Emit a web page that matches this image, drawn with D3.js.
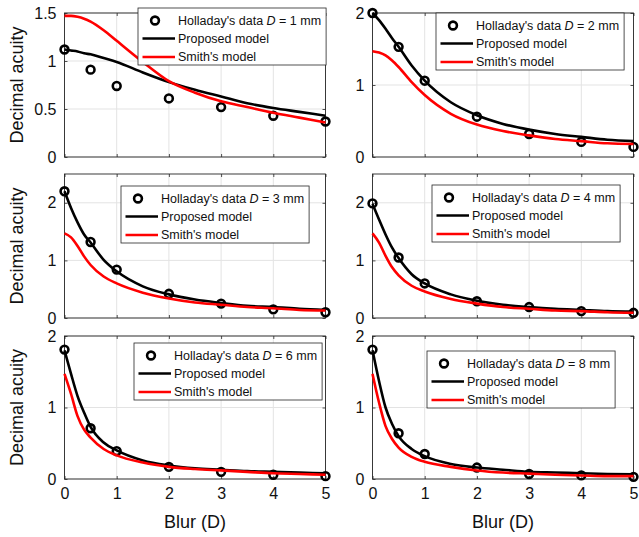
<!DOCTYPE html>
<html>
<head>
<meta charset="utf-8">
<script src="https://cdn.jsdelivr.net/npm/d3@7"></script>
<style>
  html, body { margin: 0; padding: 0; background: #fff; }
  svg { display: block; font-family: "Liberation Sans", Arial, Helvetica, sans-serif; }
</style>
</head>
<body>
<svg id="chart" width="639" height="537"></svg>
<script>
// ---------------- DATA ----------------
const blurData = [0, 0.5, 1, 2, 3, 4, 5];                 // Holladay's measured blur levels (D)
const blurCurve = [0, 0.125, 0.25, 0.375, 0.5, 0.75, 1, 1.5, 2, 2.5, 3, 3.5, 4, 4.5, 5]; // model sample points
const xTicks = [0, 1, 2, 3, 4, 5];
const pupilSizes = [1, 2, 3, 4, 6, 8];                    // D (mm)

const holladayD1 = [1.12, 0.91, 0.74, 0.61, 0.52, 0.43, 0.37];
const proposedD1 = [1.12, 1.11, 1.10, 1.08, 1.07, 1.03, 0.99, 0.88, 0.78, 0.70, 0.63, 0.56, 0.51, 0.47, 0.43];
const smithD1    = [1.47, 1.47, 1.46, 1.44, 1.41, 1.32, 1.21, 0.99, 0.79, 0.67, 0.58, 0.52, 0.46, 0.41, 0.36];

const holladayD2 = [2.00, 1.53, 1.06, 0.56, 0.32, 0.21, 0.14];
const proposedD2 = [2.00, 1.90, 1.78, 1.65, 1.53, 1.27, 1.06, 0.76, 0.58, 0.46, 0.38, 0.32, 0.28, 0.24, 0.22];
const smithD2    = [1.47, 1.45, 1.41, 1.34, 1.25, 1.04, 0.86, 0.60, 0.45, 0.36, 0.30, 0.25, 0.22, 0.19, 0.18];

const holladayD3 = [2.20, 1.32, 0.84, 0.42, 0.25, 0.15, 0.10];
const proposedD3 = [2.20, 1.91, 1.66, 1.45, 1.31, 1.01, 0.81, 0.55, 0.41, 0.32, 0.26, 0.21, 0.19, 0.16, 0.14];
const smithD3    = [1.47, 1.40, 1.25, 1.07, 0.92, 0.72, 0.60, 0.44, 0.34, 0.27, 0.23, 0.19, 0.17, 0.14, 0.13];

const holladayD4 = [1.99, 1.05, 0.60, 0.29, 0.19, 0.12, 0.09];
const proposedD4 = [1.98, 1.71, 1.45, 1.22, 1.04, 0.76, 0.60, 0.41, 0.30, 0.23, 0.19, 0.16, 0.14, 0.12, 0.11];
const smithD4    = [1.47, 1.31, 1.08, 0.88, 0.74, 0.56, 0.46, 0.33, 0.25, 0.19, 0.16, 0.13, 0.12, 0.10, 0.09];

const holladayD6 = [1.81, 0.71, 0.39, 0.17, 0.10, 0.06, 0.04];
const proposedD6 = [1.80, 1.47, 1.16, 0.93, 0.73, 0.51, 0.40, 0.26, 0.19, 0.15, 0.13, 0.11, 0.10, 0.09, 0.08];
const smithD6    = [1.47, 1.19, 0.88, 0.69, 0.58, 0.42, 0.33, 0.23, 0.17, 0.14, 0.12, 0.10, 0.08, 0.07, 0.06];

const holladayD8 = [1.81, 0.64, 0.35, 0.16, 0.07, 0.05, 0.03];
const proposedD8 = [1.80, 1.37, 1.00, 0.77, 0.60, 0.42, 0.32, 0.21, 0.16, 0.13, 0.10, 0.09, 0.08, 0.07, 0.065];
const smithD8    = [1.47, 1.07, 0.74, 0.56, 0.44, 0.31, 0.24, 0.17, 0.12, 0.09, 0.075, 0.06, 0.05, 0.04, 0.04];

const yMaxes = [1.5, 2, 2.5, 2.5, 2, 2];
const yTickSets = [[0, 0.5, 1, 1.5], [0, 1, 2], [0, 1, 2], [0, 1, 2], [0, 1, 2], [0, 1, 2]];
const yTickLabels = [["0", "0.5", "1", "1.5"], ["0", "1", "2"], ["0", "1", "2"], ["0", "1", "2"], ["0", "1", "2"], ["0", "1", "2"]];
const legendLabels = ["Holladay's data", "Proposed model", "Smith's model"];
const xAxisTitle = "Blur (D)";
const yAxisTitle = "Decimal acuity";

const holladay = [holladayD1, holladayD2, holladayD3, holladayD4, holladayD6, holladayD8];
const proposed = [proposedD1, proposedD2, proposedD3, proposedD4, proposedD6, proposedD8];
const smith    = [smithD1, smithD2, smithD3, smithD4, smithD6, smithD8];

// ---------------- LAYOUT ----------------
const colX = [[64.5, 325.5], [372.5, 633.5]];
const rowY = [[13, 157], [174, 318], [336, 479]];
const legendPos = [[138, 8], [436, 13], [121, 186], [432, 185], [134, 343], [427, 351]];

const svg = d3.select("#chart");
const frameColor = "#262626";
const gridColor = "#e3e3e3";

pupilSizes.forEach((D, i) => {
  const col = i % 2, row = Math.floor(i / 2);
  const x = d3.scaleLinear().domain([0, 5]).range(colX[col]);
  const y = d3.scaleLinear().domain([0, yMaxes[i]]).range([rowY[row][1], rowY[row][0]]);
  const g = svg.append("g");
  const [x0, x1] = colX[col];
  const [yb, yt] = [rowY[row][1], rowY[row][0]];

  // grid
  g.selectAll(".gx").data(xTicks).join("line")
    .attr("x1", d => x(d)).attr("x2", d => x(d)).attr("y1", yt).attr("y2", yb)
    .attr("stroke", gridColor).attr("stroke-width", 1);
  g.selectAll(".gy").data(yTickSets[i]).join("line")
    .attr("x1", x0).attr("x2", x1).attr("y1", d => y(d)).attr("y2", d => y(d))
    .attr("stroke", gridColor).attr("stroke-width", 1);

  // axes (ticks inward)
  const axB = d3.axisBottom(x).tickValues(xTicks).tickSize(-3).tickPadding(9)
    .tickFormat(row === 2 ? d3.format("d") : () => "");
  const axT = d3.axisTop(x).tickValues(xTicks).tickSize(-3).tickFormat(() => "");
  const axL = d3.axisLeft(y).tickValues(yTickSets[i]).tickSize(-3).tickPadding(8)
    .tickFormat((d, k) => yTickLabels[i][k]);
  const axR = d3.axisRight(y).tickValues(yTickSets[i]).tickSize(-3).tickFormat(() => "");
  const styleAxis = sel => {
    sel.select(".domain").remove();
    sel.selectAll("line").attr("stroke", frameColor).attr("stroke-width", 0.8);
    sel.selectAll("text").attr("fill", "#111").style("font-size", "16px")
      .style("font-family", "'Liberation Sans', Arial, Helvetica, sans-serif");
  };
  g.append("g").attr("transform", `translate(0,${yb})`).call(axB).call(styleAxis);
  g.append("g").attr("transform", `translate(0,${yt})`).call(axT).call(styleAxis);
  g.append("g").attr("transform", `translate(${x0},0)`).call(axL).call(styleAxis);
  g.append("g").attr("transform", `translate(${x1},0)`).call(axR).call(styleAxis);

  // frame
  g.append("rect").attr("x", x0).attr("y", yt).attr("width", x1 - x0).attr("height", yb - yt)
    .attr("fill", "none").attr("stroke", frameColor).attr("stroke-width", 0.9);

  // data markers
  g.selectAll(".pt").data(blurData.map((b, k) => [b, holladay[i][k]])).join("circle")
    .attr("cx", d => x(d[0])).attr("cy", d => y(d[1])).attr("r", 3.9)
    .attr("fill", "none").attr("stroke", "#000").attr("stroke-width", 2.6);

  const line = d3.line().x(d => x(d[0])).y(d => y(d[1])).curve(d3.curveMonotoneX);
  g.append("path").datum(blurCurve.map((b, k) => [b, proposed[i][k]]))
    .attr("d", line).attr("fill", "none").attr("stroke", "#000").attr("stroke-width", 2.6);
  g.append("path").datum(blurCurve.map((b, k) => [b, smith[i][k]]))
    .attr("d", line).attr("fill", "none").attr("stroke", "#ff0000").attr("stroke-width", 2.6);

  // y title (left column only)
  if (col === 0) {
    svg.append("text").attr("transform", `translate(23,${(yt + yb) / 2}) rotate(-90)`)
      .attr("text-anchor", "middle").style("font-size", "18px").attr("fill", "#111")
      .text(yAxisTitle);
  }
  if (row === 2) {
    svg.append("text").attr("x", (x0 + x1) / 2).attr("y", 528)
      .attr("text-anchor", "middle").style("font-size", "18px").attr("fill", "#111")
      .text(xAxisTitle);
  }

  // legend
  const [lx, ly] = legendPos[i];
  const lg = svg.append("g").attr("transform", `translate(${lx},${ly})`);
  const box = lg.append("rect").attr("fill", "#fff").attr("stroke", frameColor).attr("stroke-width", 0.8);
  const rowsY = [12.5, 30.5, 49];
  const t0 = lg.append("text").attr("x", 40).attr("y", rowsY[0]).attr("dy", "0.35em")
    .style("font-size", "12.5px").attr("fill", "#111");
  t0.append("tspan").text(legendLabels[0] + " ");
  t0.append("tspan").style("font-style", "italic").text("D");
  t0.append("tspan").text(` = ${D} mm`);
  lg.append("circle").attr("cx", 17).attr("cy", rowsY[0]).attr("r", 3.9)
    .attr("fill", "none").attr("stroke", "#000").attr("stroke-width", 2.6);
  lg.append("line").attr("x1", 4.5).attr("x2", 37).attr("y1", rowsY[1]).attr("y2", rowsY[1])
    .attr("stroke", "#000").attr("stroke-width", 2.6);
  lg.append("text").attr("x", 40).attr("y", rowsY[1]).attr("dy", "0.35em")
    .style("font-size", "12.5px").attr("fill", "#111").text(legendLabels[1]);
  lg.append("line").attr("x1", 4.5).attr("x2", 37).attr("y1", rowsY[2]).attr("y2", rowsY[2])
    .attr("stroke", "#ff0000").attr("stroke-width", 2.6);
  lg.append("text").attr("x", 40).attr("y", rowsY[2]).attr("dy", "0.35em")
    .style("font-size", "12.5px").attr("fill", "#111").text(legendLabels[2]);
  const w = t0.node().getComputedTextLength();
  box.attr("x", 0).attr("y", 0).attr("width", 40 + w + 5).attr("height", 57);
});
</script>
</body>
</html>
